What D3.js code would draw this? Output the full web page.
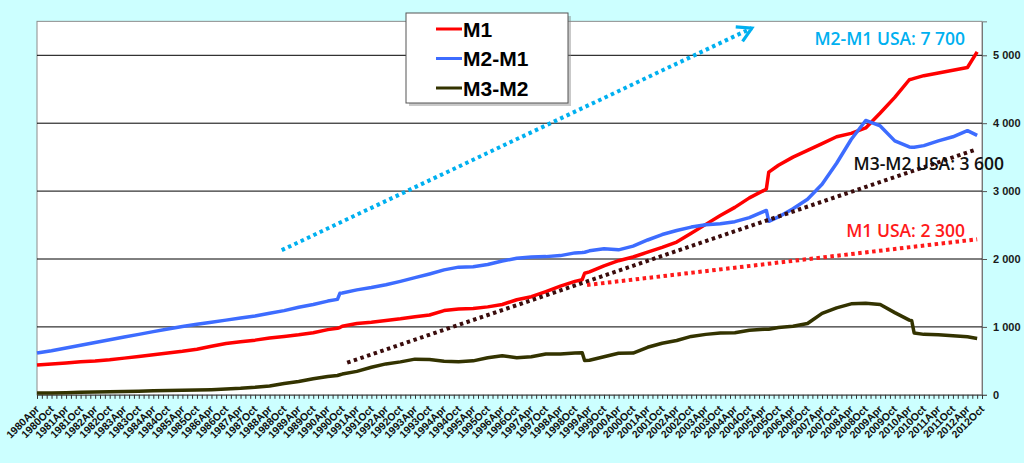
<!DOCTYPE html>
<html>
<head>
<meta charset="utf-8">
<script src="https://cdn.jsdelivr.net/npm/d3@7"></script>
<style>
body { margin: 0; background: #ccffff; }
svg { display: block; }
</style>
</head>
<body>
<svg id="chart" width="1024" height="463"></svg>
<script>
// semiannual readings, plus a few extra months where a series jumps
const months = [
    '1980-04','1980-10','1981-04','1981-10','1982-04','1982-10','1983-04','1983-10','1984-04','1984-10',
    '1985-04','1985-10','1986-04','1986-10','1987-04','1987-10','1988-04','1988-10','1989-04','1989-10',
    '1990-04','1990-08','1990-09','1990-10','1991-04','1991-10','1992-04','1992-10','1993-04','1993-10',
    '1994-04','1994-10','1995-04','1995-10','1996-04','1996-10','1997-04','1997-10','1998-04','1998-10',
    '1999-01','1999-02','1999-04','1999-10','2000-04','2000-10','2001-04','2001-10','2002-04','2002-10',
    '2003-04','2003-10','2004-04','2004-10','2005-04','2005-05','2005-06','2005-10','2006-04','2006-10',
    '2007-04','2007-10','2008-04','2008-10','2009-04','2009-10','2010-04','2010-05','2010-06','2010-10',
    '2011-04','2011-10','2012-04','2012-08'
]

const m1 = [
    440, 455, 470, 485, 497, 515, 540, 565, 590, 615,
    640, 670, 715, 755, 780, 805, 835, 860, 885, 915,
    960, 980, 990, 1010, 1050, 1070, 1095, 1120, 1150, 1175,
    1240, 1265, 1270, 1295, 1330, 1400, 1445, 1520, 1600, 1670,
    1695, 1790, 1810, 1900, 1975, 2030, 2100, 2170, 2250, 2380,
    2510, 2640, 2760, 2900, 3010, 3030, 3280, 3380, 3500, 3600,
    3700, 3800, 3850, 3930, 4150, 4380, 4640, 4650, 4660, 4700,
    4740, 4780, 4820, 5050
]

const m2m1 = [
    615, 650, 690, 730, 770, 810, 850, 890, 930, 970,
    1005, 1040, 1070, 1100, 1130, 1160, 1200, 1240, 1290, 1330,
    1380, 1405, 1495, 1500, 1545, 1580, 1620, 1670, 1725, 1780,
    1840, 1880, 1885, 1920, 1970, 2010, 2030, 2035, 2050, 2090,
    2095, 2100, 2120, 2150, 2135, 2190, 2280, 2360, 2420, 2470,
    2505, 2520, 2550, 2610, 2700, 2715, 2555, 2620, 2740, 2880,
    3100, 3410, 3760, 4040, 3960, 3740, 3650, 3645, 3645, 3670,
    3740, 3800, 3890, 3820
]

const m3m2 = [
    25, 28, 32, 38, 42, 46, 50, 54, 58, 62,
    66, 70, 76, 85, 95, 110, 130, 165, 195, 235,
    270, 285, 295, 305, 345, 405, 455, 485, 525, 520,
    495, 488, 500, 545, 575, 545, 560, 600, 600, 615,
    620, 505, 510, 560, 611, 615, 700, 760, 800, 860,
    890, 910, 915, 950, 965, 965, 965, 990, 1010, 1050,
    1200, 1280, 1340, 1350, 1330, 1210, 1100, 1090, 910, 890,
    885, 870, 855, 830
]

const seriesNames = ['M1', 'M2-M1', 'M3-M2']
const seriesColors = ['#ff0000', '#3d6cff', '#333300']
const yTicks = [0, 1000, 2000, 3000, 4000, 5000]
const tickLabels = d3.range(1980, 2013).flatMap(y => [y + 'Apr', y + 'Oct'])

// hand-drawn projections: [month, value] endpoints
const trends = [
    {from: ['1988-09', 2130], to: ['2004-11', 5400], color: '#00b0f0', arrow: true},
    {from: ['1990-12', 473], to: ['2012-07', 3606], color: '#3a0c0c'},
    {from: ['1999-03', 1617], to: ['2012-08', 2290], color: '#ff1a1a'}
]
const notes = [
    {text: 'M2-M1 USA: 7 700', at: ['2012-03', 5150], anchor: 'end', color: '#00b0f0'},
    {text: 'M3-M2 USA: 3 600', at: ['2008-05', 3310], anchor: 'start', color: '#111'},
    {text: 'M1 USA: 2 300', at: ['2012-03', 2325], anchor: 'end', color: '#ff1a1a'}
]

let monthIndex = s => (+s.slice(0, 4) - 1980) * 12 + (+s.slice(5, 7) - 4)
let labelIndex = s => (+s.slice(0, 4) - 1980) * 12 + (s.endsWith('Oct') ? 6 : 0)

let svg = d3.select('#chart')
let plot = {left: 37, right: 982, top: 21.35, bottom: 394.8}

let x = d3.scaleLinear().domain([0, 390]).range([plot.left, plot.right])
let y = d3.scaleLinear().domain([0, 5500]).range([plot.bottom, plot.top])

svg.append('rect')
    .attr('x', plot.left).attr('y', plot.top)
    .attr('width', plot.right - plot.left).attr('height', plot.bottom - plot.top)
    .attr('fill', '#fff').attr('stroke', '#8c8c8c')

svg.append('g')
    .selectAll('line')
    .data(yTicks.filter(d => d > 0))
    .enter()
    .append('line')
        .attr('x1', plot.left).attr('x2', plot.right)
        .attr('y1', d => y(d)).attr('y2', d => y(d))
        .attr('stroke', '#000').attr('stroke-width', 1)

// right value axis
let yAxis = svg.append('g')
    .attr('transform', 'translate(' + plot.right + ',0)')
    .call(d3.axisRight(y).tickValues(yTicks).tickSize(5).tickPadding(6)
        .tickFormat(d => d3.format(',')(d).replace(',', ' ')))
yAxis.select('.domain').attr('stroke', '#777')
yAxis.selectAll('line').attr('stroke', '#555')
yAxis.selectAll('text')
    .attr('font-family', 'Liberation Sans, Arial, sans-serif')
    .attr('font-size', 11).attr('font-weight', 'bold').attr('fill', '#1a1a1a')

// category axis: minor ticks every 2 months, labels every 6
let xAxis = svg.append('g')
    .attr('transform', 'translate(0,' + plot.bottom + ')')
    .call(d3.axisBottom(x).tickValues(d3.range(0, 391, 2)).tickSize(4).tickFormat(''))
xAxis.select('.domain').attr('stroke', '#555')
xAxis.selectAll('line').attr('stroke', '#333')

svg.append('g')
    .selectAll('text')
    .data(tickLabels)
    .enter()
    .append('text')
        .attr('transform', d => 'translate(' + (x(labelIndex(d)) + 3) + ',' + (plot.bottom + 15) + ') rotate(-45)')
        .attr('text-anchor', 'end')
        .attr('font-family', 'Liberation Sans, Arial, sans-serif')
        .attr('font-size', 10.5).attr('font-weight', 'bold').attr('fill', '#111')
        .text(d => d)

// series
let line = d3.line()
    .x((d, i) => x(monthIndex(months[i])))
    .y(d => y(d))

;[m1, m2m1, m3m2].forEach((values, i) => {
    svg.append('path')
        .datum(values)
        .attr('d', line)
        .attr('fill', 'none')
        .attr('stroke', seriesColors[i])
        .attr('stroke-width', 3.5)
        .attr('stroke-linejoin', 'round')
})

// projections
svg.append('defs').append('marker')
    .attr('id', 'arrow')
    .attr('viewBox', '0 0 10 10')
    .attr('refX', 8).attr('refY', 5)
    .attr('markerWidth', 5).attr('markerHeight', 5)
    .attr('markerUnits', 'strokeWidth')
    .attr('orient', 'auto')
    .append('path')
        .attr('d', 'M1,1 L8,5 L1,9')
        .attr('fill', 'none').attr('stroke', '#00b0f0').attr('stroke-width', 1.6)

trends.forEach(t => {
    svg.append('line')
        .attr('x1', x(monthIndex(t.from[0]))).attr('y1', y(t.from[1]))
        .attr('x2', x(monthIndex(t.to[0]))).attr('y2', y(t.to[1]))
        .attr('stroke', t.color)
        .attr('stroke-width', 4)
        .attr('stroke-dasharray', '3.5,3.5')
        .attr('marker-end', t.arrow ? 'url(#arrow)' : null)
})

notes.forEach(n => {
    svg.append('text')
        .attr('x', x(monthIndex(n.at[0]))).attr('y', y(n.at[1]))
        .attr('text-anchor', n.anchor)
        .attr('font-family', 'Open Sans, Lato, sans-serif')
        .attr('font-size', 17.5)
        .attr('font-weight', 600)
        .attr('fill', n.color)
        .text(n.text)
})

// legend
let legend = svg.append('g').attr('transform', 'translate(406,13)')
legend.append('rect')
    .attr('x', 3).attr('y', 3).attr('width', 162).attr('height', 90)
    .attr('fill', '#888').attr('opacity', 0.45)
legend.append('rect')
    .attr('width', 162).attr('height', 90)
    .attr('fill', '#fff').attr('stroke', '#555')

seriesNames.forEach((name, i) => {
    let row = legend.append('g').attr('transform', 'translate(0,' + (16 + i * 29.5) + ')')
    row.append('line')
        .attr('x1', 30).attr('x2', 56)
        .attr('stroke', seriesColors[i]).attr('stroke-width', 3)
    row.append('text')
        .attr('x', 57).attr('dy', '0.36em')
        .attr('font-family', 'Liberation Sans, Arial, sans-serif')
        .attr('font-size', 21).attr('font-weight', 'bold').attr('fill', '#000')
        .text(name)
})
</script>
</body>
</html>
